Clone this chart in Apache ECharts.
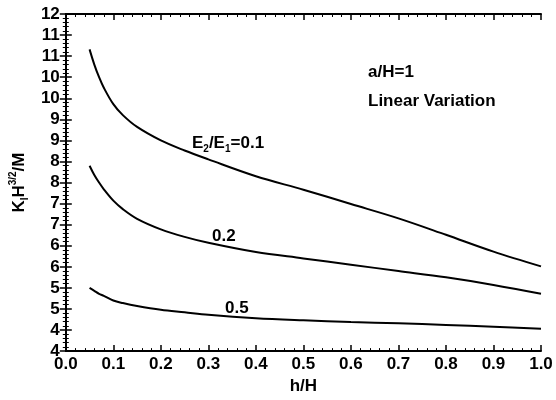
<!DOCTYPE html>
<html>
<head>
<meta charset="utf-8">
<script src="https://cdn.jsdelivr.net/npm/echarts@6/dist/echarts.min.js"></script>
<style>
  html, body { margin: 0; padding: 0; background: #fff; }
  #main { width: 556px; height: 400px; }
</style>
</head>
<body>
<div id="main"></div>
<script>
// h/H sample points
var hH = [0.05, 0.06, 0.07, 0.08, 0.1, 0.12, 0.15, 0.2, 0.25, 0.3, 0.4, 0.5, 0.6, 0.7, 0.8, 0.9, 1.0];
// K_I H^{3/2}/M for each E2/E1
var ratio01 = [11.16, 10.8, 10.5, 10.25, 9.86, 9.6, 9.32, 9.0, 8.76, 8.55, 8.15, 7.83, 7.49, 7.15, 6.76, 6.36, 6.01];
var ratio02 = [8.4, 8.18, 8.0, 7.84, 7.57, 7.37, 7.14, 6.89, 6.71, 6.57, 6.35, 6.2, 6.05, 5.9, 5.75, 5.57, 5.36];
var ratio05 = [5.5, 5.43, 5.36, 5.31, 5.2, 5.14, 5.07, 4.98, 4.92, 4.86, 4.78, 4.73, 4.69, 4.66, 4.62, 4.58, 4.53];

var FONT = 'Liberation Sans, Arial, sans-serif';

function pairs(ys) {
    return hH.map(function (x, i) { return [x, ys[i]]; });
}

function lineSeries(name, ys) {
    return {
        name: name,
        type: 'line',
        data: pairs(ys),
        smooth: 0.35,
        showSymbol: false,
        symbol: 'none',
        lineStyle: { color: '#000', width: 2 },
        silent: true
    };
}

var axisCommon = {
    axisLine: { show: true, lineStyle: { color: '#000', width: 2 } },
    axisTick: { show: true, inside: true, length: 6, lineStyle: { color: '#000', width: 1.5 } },
    minorTick: { show: true, splitNumber: 5, length: 3, lineStyle: { color: '#000', width: 1 } },
    splitLine: { show: false }
};

var labelStyle = { color: '#000', fontSize: 17, fontWeight: 'bold', fontFamily: FONT };

var myChart = echarts.init(document.getElementById('main'), null, { renderer: 'canvas' });
myChart.setOption({
    animation: false,
    backgroundColor: '#fff',
    grid: { left: 60, right: 15, top: 14, bottom: 46 },
    xAxis: [
        Object.assign({
            type: 'value', min: 0, max: 1, interval: 0.1, position: 'bottom',
            name: 'h/H', nameLocation: 'middle', nameGap: 24,
            nameTextStyle: labelStyle,
            axisLabel: Object.assign({ margin: 5, formatter: function (v) { return v.toFixed(1); } }, labelStyle)
        }, axisCommon),
        Object.assign({
            type: 'value', min: 0, max: 1, interval: 0.1, position: 'top',
            axisLabel: { show: false }
        }, axisCommon)
    ],
    yAxis: [
        Object.assign({
            type: 'value', min: 4, max: 12, interval: 0.5, position: 'left',
            name: '{a|K}{s|I}{a|H}{p|3/2}{a|/M}', nameLocation: 'middle', nameGap: 27, nameRotate: 90,
            nameTextStyle: {
                color: '#000', fontSize: 17, fontWeight: 'bold', fontFamily: FONT,
                rich: {
                    a: { color: '#000', fontSize: 17, fontWeight: 'bold', fontFamily: FONT, lineHeight: 22 },
                    s: { color: '#000', fontSize: 10, fontWeight: 'bold', fontFamily: FONT, lineHeight: 10, verticalAlign: 'bottom' },
                    p: { color: '#000', fontSize: 10, fontWeight: 'bold', fontFamily: FONT, lineHeight: 10, verticalAlign: 'top' }
                }
            },
            axisLabel: Object.assign({ margin: 6, formatter: function (v) { return String(Math.floor(v)); } }, labelStyle)
        }, axisCommon),
        Object.assign({
            type: 'value', min: 4, max: 12, interval: 0.5, position: 'right',
            axisLabel: { show: false }
        }, axisCommon)
    ],
    graphic: [
        {
            type: 'text', left: 368, top: 64,
            style: { text: 'a/H=1', fill: '#000', font: 'bold 17px ' + FONT }
        },
        {
            type: 'text', left: 368, top: 93,
            style: { text: 'Linear Variation', fill: '#000', font: 'bold 17px ' + FONT }
        },
        {
            type: 'text', left: 192, top: 135,
            style: {
                text: '{a|E}{s|2}{a|/E}{s|1}{a|=0.1}',
                rich: {
                    a: { fill: '#000', fontSize: 17, fontWeight: 'bold', fontFamily: FONT, lineHeight: 22 },
                    s: { fill: '#000', fontSize: 10, fontWeight: 'bold', fontFamily: FONT, lineHeight: 10, verticalAlign: 'bottom' }
                }
            }
        },
        {
            type: 'text', left: 212, top: 228,
            style: { text: '0.2', fill: '#000', font: 'bold 17px ' + FONT }
        },
        {
            type: 'text', left: 225, top: 300,
            style: { text: '0.5', fill: '#000', font: 'bold 17px ' + FONT }
        }
    ],
    series: [
        lineSeries('0.1', ratio01),
        lineSeries('0.2', ratio02),
        lineSeries('0.5', ratio05)
    ]
});
</script>
</body>
</html>
